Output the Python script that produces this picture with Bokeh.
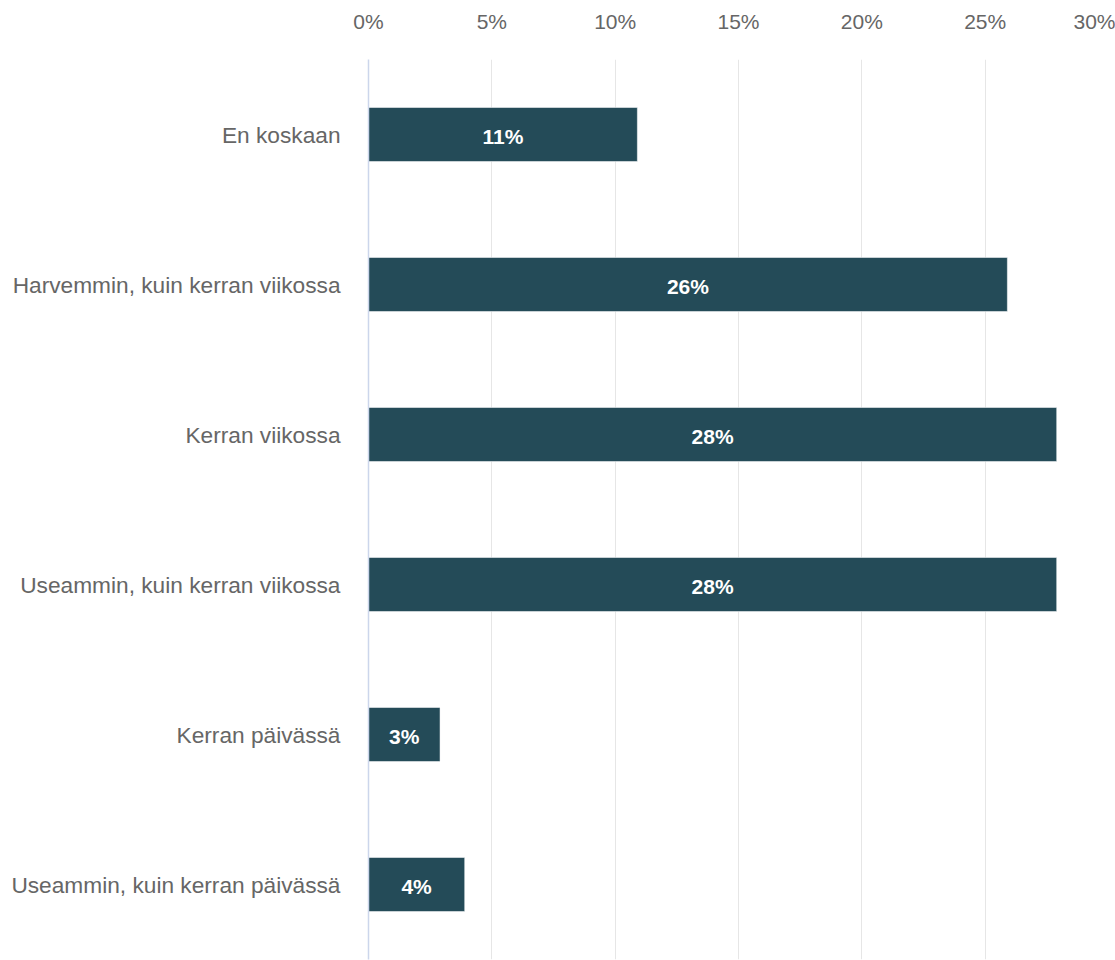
from bokeh.plotting import figure
from bokeh.models import FactorRange, Range1d, FixedTicker, PrintfTickFormatter, ColumnDataSource
from bokeh.core.properties import value
from bokeh.embed import file_html
from bokeh.resources import INLINE

categories = [
    "En koskaan",
    "Harvemmin, kuin kerran viikossa",
    "Kerran viikossa",
    "Useammin, kuin kerran viikossa",
    "Kerran päivässä",
    "Useammin, kuin kerran päivässä",
]
values = [10.9, 25.9, 27.9, 27.9, 2.9, 3.9]
labels = ["11%", "26%", "28%", "28%", "3%", "4%"]
ticks = [0, 5, 10, 15, 20, 25, 30]

FONT = "Liberation Sans"
BAR = "#244b58"

src = ColumnDataSource(dict(
    cat=categories,
    val=values,
    mid=[v / 2 for v in values],
    lab=labels,
))

p = figure(
    y_range=FactorRange(*reversed(categories), range_padding=0),
    x_range=Range1d(0, 30),
    frame_width=740, frame_height=900,
    min_border_left=368, min_border_right=7, min_border_top=59, min_border_bottom=1,
    output_backend="svg", toolbar_location=None,
    x_axis_location="above",
)
p.outline_line_color = None
p.background_fill_color = "white"

p.hbar(y="cat", right="val", left=0, height=0.36, source=src,
       fill_color=BAR, line_color="#ffffff", line_width=0.5)
p.text(x="mid", y="cat", text="lab", source=src,
       text_align="center", text_baseline="middle", y_offset=2,
       text_color="#ffffff", text_font=value(FONT), text_font_style="bold",
       text_font_size="21px")

xa = p.xaxis[0]
xa.ticker = FixedTicker(ticks=ticks)
xa.formatter = PrintfTickFormatter(format="%d%%")
xa.axis_line_color = None
xa.major_tick_line_color = None
xa.minor_tick_line_color = None
xa.major_tick_out = 0
xa.major_label_standoff = 27
xa.major_label_text_font = FONT
xa.major_label_text_font_size = "21px"
xa.major_label_text_color = "#666666"

ya = p.yaxis[0]
ya.axis_line_color = "#ccd6eb"
ya.axis_line_width = 1.5
ya.major_tick_line_color = None
ya.minor_tick_line_color = None
ya.major_tick_out = 0
ya.major_label_standoff = 28
ya.major_label_text_font = FONT
ya.major_label_text_font_size = "22.7px"
ya.major_label_text_color = "#666666"

p.xgrid.grid_line_color = "#e6e6e6"
p.xgrid.ticker = FixedTicker(ticks=ticks[1:])
p.ygrid.grid_line_color = None

open("out.html", "w").write(file_html(p, INLINE))
